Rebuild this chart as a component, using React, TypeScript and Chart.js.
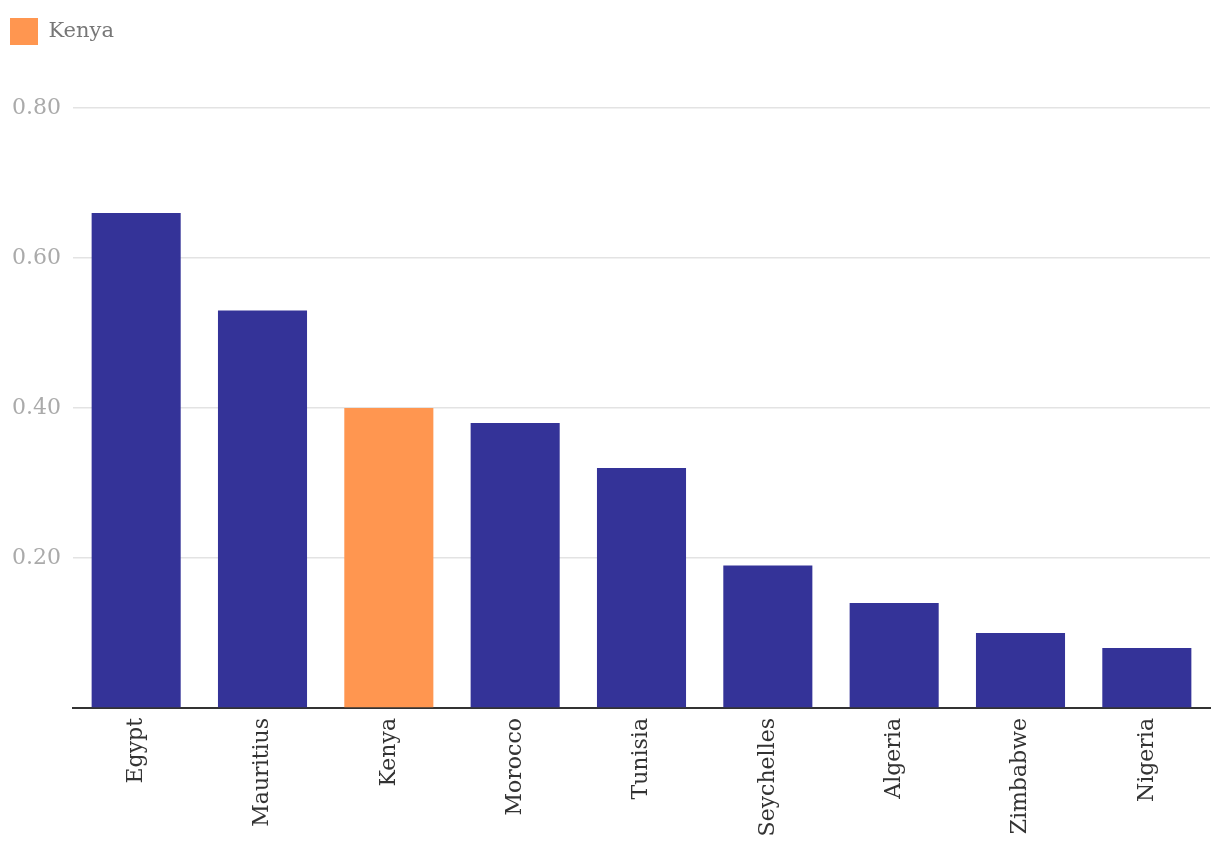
import React, { useEffect, useRef } from "react";
import { Chart, registerables } from "chart.js";

Chart.register(...registerables);

const categories = ["Egypt", "Mauritius", "Kenya", "Morocco", "Tunisia", "Seychelles", "Algeria", "Zimbabwe", "Nigeria"];
const values = [0.66, 0.53, 0.40, 0.38, 0.32, 0.19, 0.14, 0.10, 0.08];
const highlight = "Kenya";
const yTicks = [0, 0.2, 0.4, 0.6, 0.8];

const NAVY = "#343398";
const ORANGE = "#FF9650";
const FONT = "'DejaVu Serif', serif";

const legendHeightPlugin = {
  id: "legendHeight",
  beforeLayout(chart: any) {
    const lg = chart.legend;
    if (lg && !lg._patched) {
      const orig = lg.fit.bind(lg);
      lg.fit = function () {
        orig();
        this.height = 100;
      };
      lg._patched = true;
    }
  },
};

export default function App() {
  const ref = useRef<HTMLCanvasElement>(null);
  useEffect(() => {
    if (!ref.current) return;
    const chart = new Chart(ref.current, {
      type: "bar",
      data: {
        labels: categories,
        datasets: [
          {
            label: highlight,
            data: values,
            backgroundColor: categories.map((c) => (c === highlight ? ORANGE : NAVY)),
            barPercentage: 0.705,
            categoryPercentage: 1,
          },
        ],
      },
      options: {
        animation: false,
        responsive: true,
        maintainAspectRatio: false,
        layout: { padding: { left: 0, right: 10, top: 8, bottom: 0 } },
        plugins: {
          tooltip: { enabled: false },
          legend: {
            position: "top",
            align: "start",
            onClick: () => {},
            labels: {
              boxWidth: 28,
              boxHeight: 27,
              padding: 10,
              color: "#777777",
              font: { family: FONT, size: 21 },
              generateLabels: () => [
                {
                  text: highlight,
                  fillStyle: ORANGE,
                  strokeStyle: ORANGE,
                  lineWidth: 0,
                  hidden: false,
                  datasetIndex: 0,
                  fontColor: "#777777",
                },
              ],
            },
          },
        },
        scales: {
          x: {
            grid: { display: false, drawTicks: false },
            border: { display: true, color: "#333333", width: 2 },
            ticks: {
              minRotation: 90,
              maxRotation: 90,
              padding: 10,
              color: "#333333",
              font: { family: FONT, size: 22 },
            },
            afterFit: (s: any) => {
              s.height = 146;
            },
          },
          y: {
            min: 0,
            max: 0.8,
            afterBuildTicks: (s: any) => {
              s.ticks = yTicks.map((v) => ({ value: v }));
            },
            grid: { color: "#e3e3e3", lineWidth: 1.5, drawTicks: false },
            border: { display: false },
            ticks: {
              padding: 12,
              color: "#aaaaaa",
              font: { family: FONT, size: 22 },
              callback: (v: any) => (Number(v) === 0 ? "" : Number(v).toFixed(2)),
            },
            afterFit: (s: any) => {
              s.width = 73;
            },
          },
        },
      },
      plugins: [legendHeightPlugin],
    });
    return () => chart.destroy();
  }, []);
  return (
    <div style={{ position: "fixed", left: 0, top: 0, width: 1220, height: 854, background: "#fff" }}>
      <canvas ref={ref} />
    </div>
  );
}
